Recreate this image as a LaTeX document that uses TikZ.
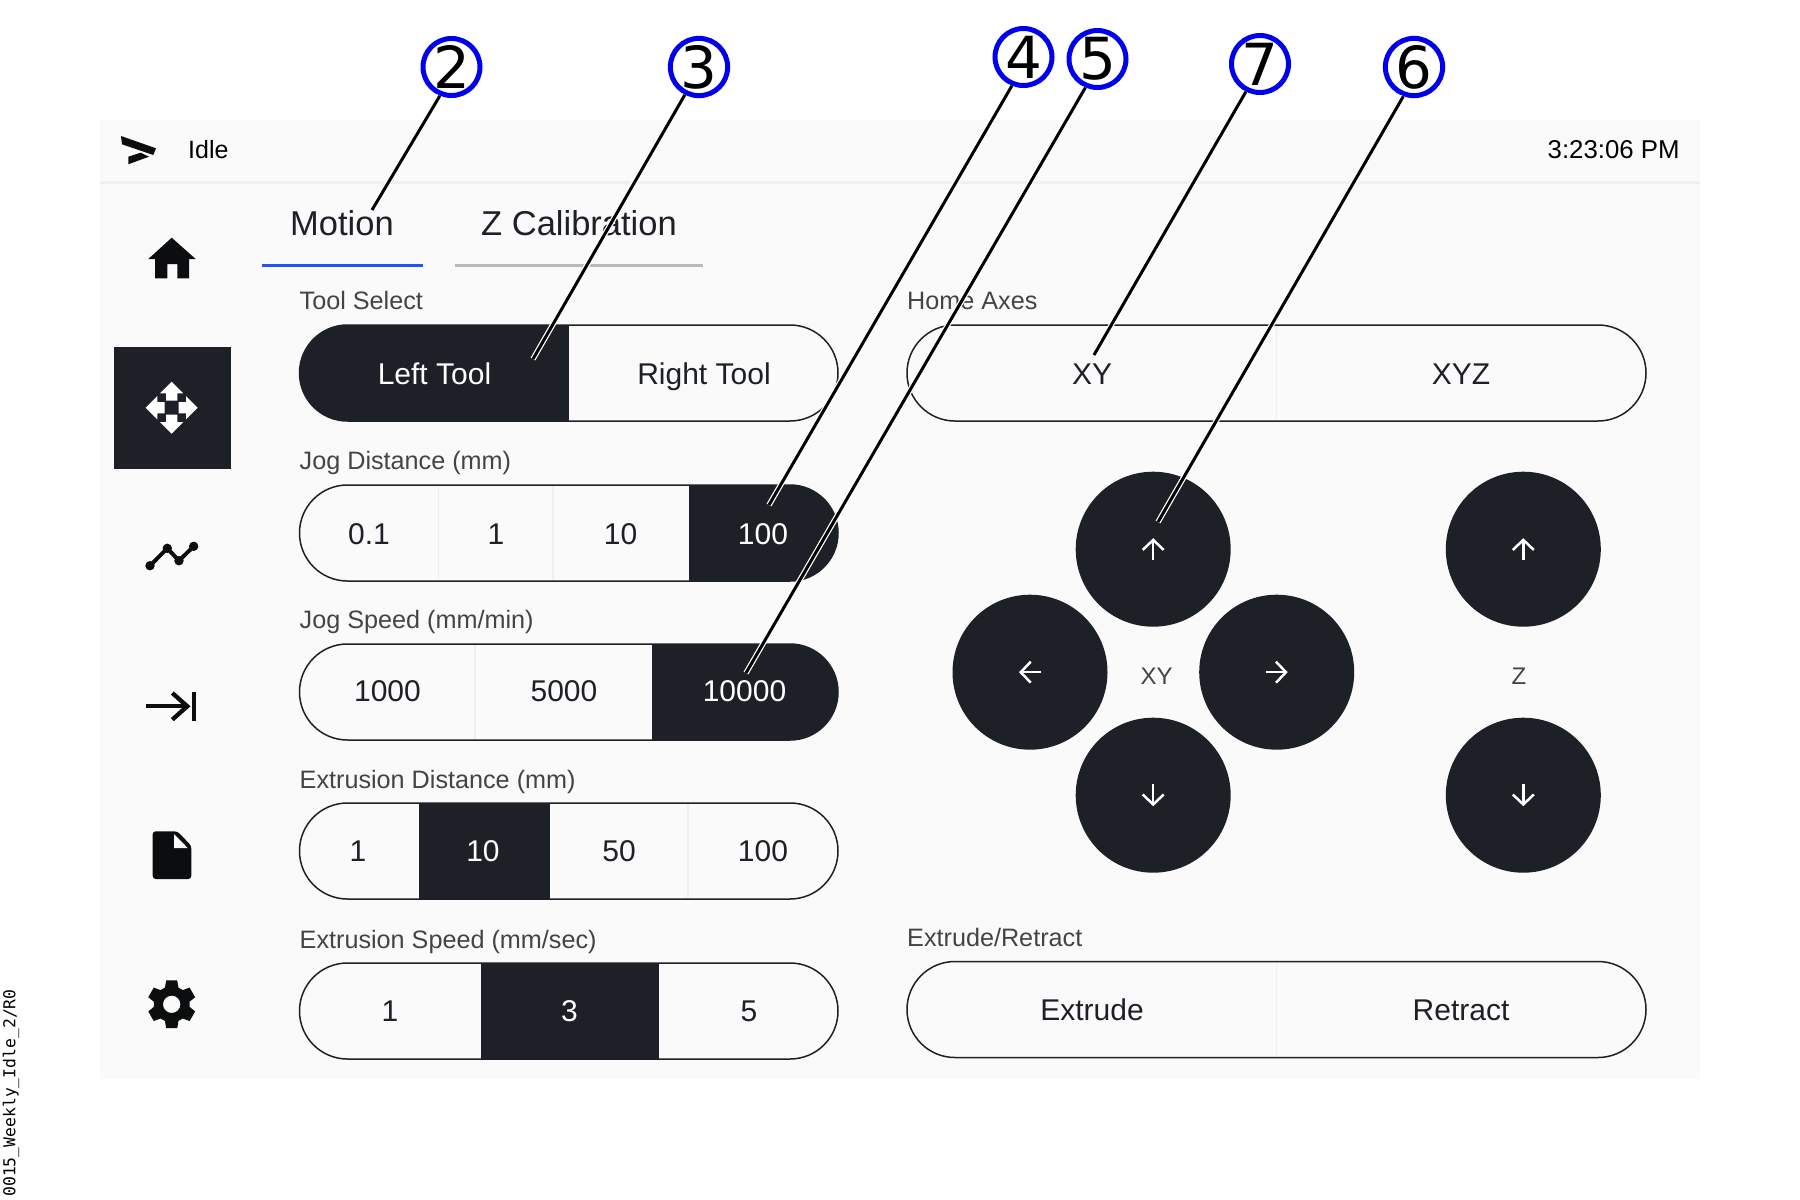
\documentclass[tikz,border=0pt]{standalone}
\usepackage{fontspec}
\setmainfont{Liberation Sans}
\newfontfamily\numfont{DejaVu Sans}
\newfontfamily\tagfont{DejaVu Sans Mono}
\usetikzlibrary{arrows.meta}
\definecolor{panelbg}{HTML}{FAFAFA}
\definecolor{sepline}{HTML}{F0F0F0}
\definecolor{darkbtn}{HTML}{1D2127}
\definecolor{icondark}{HTML}{0C0D0E}
\definecolor{labelgray}{HTML}{444444}
\definecolor{callblue}{HTML}{0000EE}
\definecolor{tabblue}{HTML}{1F55F5}
\tikzset{
	btntext/.style={inner sep=0pt, text height=21pt, text depth=0pt, text=darkbtn, font=\fontsize{30}{31}\selectfont},
	btnwhite/.style={btntext, text=white},
	fieldlabel/.style={anchor=west, inner sep=0pt, text height=18pt, text depth=0pt, text=labelgray, font=\fontsize{25.2}{26}\selectfont},
	tabtext/.style={inner sep=0pt, text height=24pt, text depth=0pt, text=darkbtn, font=\fontsize{34.5}{36}\selectfont},
	headtext/.style={anchor=west, inner sep=0pt, text height=18pt, text depth=0pt, text=black},
	jogbtn/.style={circle, fill=darkbtn, minimum size=155pt, inner sep=0pt},
	jogarrow/.style={white, line width=2.5pt, -{Straight Barb[length=10pt,width=21pt]}},
	callout/.style={circle, draw=callblue, line width=5pt, fill=white, minimum size=57pt, inner sep=0pt, text=black, font=\numfont\fontsize{58}{58}\selectfont},
	leader/.style={black, line width=3pt, preaction={draw=white, line width=5.5pt}},
	divider/.style={sepline, line width=1.5pt},
	pillline/.style={rounded corners=48pt, draw=darkbtn, line width=1.5pt},
}
% x1, y1, x2, y2, dark from, dark to
\newcommand{\segpill}[6]{
	\begin{scope}
		\clip[rounded corners=48pt] (#1,#2) rectangle (#3,#4);
		\fill[darkbtn] (#5,#2) rectangle (#6,#4);
	\end{scope}
	\draw[pillline] (#1,#2) rectangle (#3,#4);
}

\begin{document}
\begin{tikzpicture}[x=1pt, y=-1pt]
	\useasboundingbox (0,0) rectangle (1800,1200);

	% panel and header
	\fill[panelbg] (100,120) rectangle (1700,1079);
	\draw[sepline, line width=3pt] (100,182) -- (1700,182);
	\fill[icondark] (121,136) -- (156,148.3) -- (153.3,155) -- (122,144.3) -- cycle;
	\fill[icondark] (128.3,156.7) -- (140.7,152.7) -- (149,156.7) -- (128.3,164.3) -- cycle;
	\node[headtext, font=\fontsize{25}{26}\selectfont] (status) at (188,149) {Idle};
	\node[headtext, font=\fontsize{25.8}{27}\selectfont] (clock) at (1547.5,149) {3:23:06 PM};

	% side bar
	\fill[icondark] (171.7,237.7) -- (195.7,259) -- (189,259) -- (189,278.3) -- (177.3,278.3) -- (177.3,264) -- (167.3,264) -- (167.3,278.3) -- (155,278.3) -- (155,259) -- (148.3,259) -- cycle;
	\fill[darkbtn] (114,347.3) rectangle (231.3,468.7);
	\foreach \a in {0,90,180,270}
		\fill[white, shift={(171.7,407.7)}, rotate=\a] (0,-26) -- (11.7,-14.3) -- (5.7,-14.3) -- (5.7,-7) -- (-5.7,-7) -- (-5.7,-14.3) -- (-11.7,-14.3) -- cycle;
	\begin{scope}[yshift=1pt]
		\draw[icondark, line width=4pt] (150,566.7) -- (167.3,549.3) -- (179,561.7) -- (193.7,547.3);
		\foreach \x/\y in {150/566.7, 167.3/549.3, 179/561.7, 193.7/547.3}
			\fill[icondark] (\x,\y) circle(4.7);
		\draw[icondark, line width=4.3pt] (145.7,707.3) -- (186,707.3);
		\draw[icondark, line width=4.3pt] (172.3,694) -- (187.3,707.3) -- (172.3,720.6);
		\fill[icondark] (191.7,692.7) rectangle (196,721.7);
		\fill[icondark, rounded corners=3pt] (152.7,832.3) -- (177.3,832.3) -- (191.3,846.7) -- (191.3,880) -- (152.7,880) -- cycle;
		\fill[panelbg] (174,835) -- (187.7,849) -- (174,849) -- cycle;
	\end{scope}
	\fill[icondark, shift={(171.7,1004.3)}, even odd rule] (68:18)
		\foreach \a in {90,150,210,270,330,30} { -- (\a-22:18) -- (\a-13:24.5) -- (\a+13:24.5) -- (\a+22:18) } -- cycle
		(0,0) circle(8.7);

	% tabs
	\node[tabtext] (motion) at (342,223) {Motion};
	\node[tabtext] (zcal) at (579,223) {Z Calibration};
	\draw[tabblue, line width=3pt] (262,265) -- (423,265);
	\draw[black!27, line width=3pt] (455,265) -- (703,265);

	% left column
	\node[fieldlabel] (toollabel) at (299.5,300.5) {Tool Select};
	\segpill{299.5}{325}{838}{421}{299.5}{569}
	\node[btnwhite] (lefttool) at (434.5,374) {Left Tool};
	\node[btntext] (righttool) at (704,374) {Right Tool};

	\node[fieldlabel] (jogdlabel) at (299.5,460.5) {Jog Distance (mm)};
	\segpill{299.5}{485}{838}{581}{689}{838}
	\foreach \x in {438.5,553}
		\draw[divider] (\x,486) -- (\x,580);
	\foreach \x/\t in {369/0.1, 496/1, 620.5/10}
		\node[btntext] (jogd\x) at (\x,534) {\t};
	\node[btnwhite] (jogdsel) at (763,534) {100};

	\node[fieldlabel] (jogslabel) at (299.5,619.5) {Jog Speed (mm/min)};
	\segpill{299.5}{644}{838}{740}{652}{838}
	\draw[divider] (475,645) -- (475,739);
	\foreach \x/\t in {387.5/1000, 564/5000}
		\node[btntext] (jogs\x) at (\x,691) {\t};
	\node[btnwhite] (jogssel) at (744.5,691) {10000};

	\node[fieldlabel] (extdlabel) at (299.5,779.5) {Extrusion Distance (mm)};
	\segpill{299.5}{803}{838}{899}{418.5}{549.5}
	\draw[divider] (688,804) -- (688,898);
	\foreach \x/\t in {358/1, 619/50, 763/100}
		\node[btntext] (extd\x) at (\x,851) {\t};
	\node[btnwhite] (extdsel) at (483,851) {10};

	\node[fieldlabel] (extslabel) at (299.5,939.5) {Extrusion Speed (mm/sec)};
	\segpill{299.5}{963}{838}{1059}{480.5}{658.5}
	\foreach \x/\t in {390/1, 749/5}
		\node[btntext] (exts\x) at (\x,1011) {\t};
	\node[btnwhite] (extssel) at (569.5,1011) {3};

	% right column
	\node[fieldlabel] (homelabel) at (907,300.5) {Home Axes};
	\draw[divider] (1276.6,326) -- (1276.6,420);
	\draw[pillline] (907,325) rectangle (1646,421);
	\node[btntext] (homexy) at (1092,374) {XY};
	\node[btntext] (homexyz) at (1461,374) {XYZ};

	\node[fieldlabel] (extrlabel) at (907,937.5) {Extrude/Retract};
	\draw[divider] (1276.6,962) -- (1276.6,1056);
	\draw[pillline] (907,961.5) rectangle (1646,1057.5);
	\node[btntext] (extrude) at (1092,1010) {Extrude};
	\node[btntext] (retract) at (1461,1010) {Retract};

	% jog pad
	\node[jogbtn] (xyup) at (1153.2,549.2) {};
	\node[jogbtn] (xydown) at (1153.2,795.2) {};
	\node[jogbtn] (xyleft) at (1030,672.2) {};
	\node[jogbtn] (xyright) at (1276.7,672.2) {};
	\node[jogbtn] (zup) at (1523.3,549.2) {};
	\node[jogbtn] (zdown) at (1523.3,795.2) {};
	\node[inner sep=0pt, text=labelgray, font=\fontsize{24}{25}\selectfont] (xytext) at (1156.6,676) {XY};
	\node[inner sep=0pt, text=labelgray, font=\fontsize{24}{25}\selectfont] (ztext) at (1519,676) {Z};
	\draw[jogarrow] ([yshift=-11pt]xyup.center) -- ([yshift=11pt]xyup.center);
	\draw[jogarrow] ([yshift=-11pt]zup.center) -- ([yshift=11pt]zup.center);
	\draw[jogarrow] ([yshift=11pt]xydown.center) -- ([yshift=-11pt]xydown.center);
	\draw[jogarrow] ([yshift=11pt]zdown.center) -- ([yshift=-11pt]zdown.center);
	\draw[jogarrow] ([xshift=11pt]xyleft.center) -- ([xshift=-11pt]xyleft.center);
	\draw[jogarrow] ([xshift=-11pt]xyright.center) -- ([xshift=11pt]xyright.center);

	% callouts
	\node[callout] (call2) at (451.5,67) {2};
	\node[callout] (call3) at (699,67) {3};
	\node[callout] (call4) at (1023.5,57) {4};
	\node[callout] (call5) at (1097.5,59) {5};
	\node[callout] (call7) at (1260,64) {7};
	\node[callout] (call6) at (1414,67) {6};
	\coordinate (end2) at (372,210);
	\coordinate (end3) at (533,359);
	\coordinate (end4) at (769,505);
	\coordinate (end5) at (746,673);
	\coordinate (end7) at (1094,355);
	\coordinate (end6) at (1158,522);
	\foreach \n/\a in {2/-112,3/-117,4/-112,5/-113,7/-117,6/-110}
		\draw[leader] (call\n.\a) -- (end\n);

	\node[rotate=90, inner sep=0pt, text=black, font=\tagfont\fontsize{16.4}{17}\selectfont] (drawtag) at (11,1093) {0015\_Weekly\_Idle\_2/R0};
\end{tikzpicture}
\end{document}
